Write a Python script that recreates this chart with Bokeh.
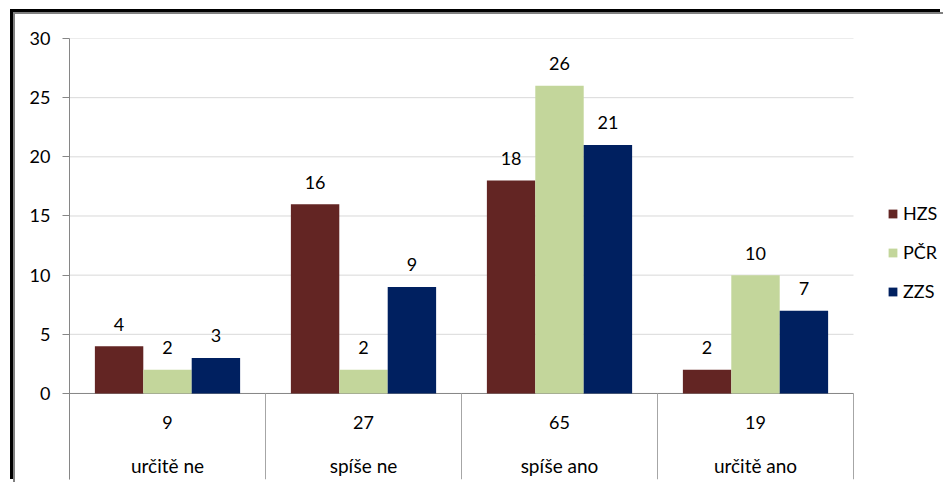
from bokeh.plotting import figure
from bokeh.models import Range1d, FixedTicker, Legend, LegendItem, ColumnDataSource
from bokeh.core.properties import value
from bokeh.transform import dodge
from bokeh.embed import file_html
from bokeh.resources import INLINE

categories = ["určitě ne", "spíše ne", "spíše ano", "určitě ano"]
totals = [9, 27, 65, 19]
series_names = ["HZS", "PČR", "ZZS"]
hzs = [4, 16, 18, 2]
pcr = [2, 2, 26, 10]
zzs = [3, 9, 21, 7]
y_ticks = [0, 5, 10, 15, 20, 25, 30]

colors = ["#632523", "#c3d69b", "#002060"]
FONT = "Lato"
FS = "18px"

n = len(categories)
xc = [i + 0.5 for i in range(n)]
src = ColumnDataSource(dict(xc=xc, cat=categories, tot=[str(t) for t in totals],
                            HZS=hzs, PCR=pcr, ZZS=zzs,
                            HZS_t=[str(v) for v in hzs], PCR_t=[str(v) for v in pcr],
                            ZZS_t=[str(v) for v in zzs]))

W, H = 930, 470
LEFT, TOP, BOTTOM = 54, 24, 5
PLOT_PX = 784  # pixel width of the 4 category columns
x_end = n * (W - LEFT) / PLOT_PX

p = figure(width=W, height=H, output_backend="svg", toolbar_location=None,
           x_range=Range1d(0, x_end), y_range=Range1d(-7.27, 30),
           x_axis_location=None, min_border_left=LEFT, min_border_top=TOP,
           min_border_right=0, min_border_bottom=BOTTOM)
p.outline_line_color = None
p.background_fill_color = "white"
p.border_fill_color = "white"
p.styles = {"border-top": "2px solid #808080", "border-left": "2px solid #808080",
            "box-shadow": "-3px -3px 0 0 black",
            "margin-left": "13px", "margin-top": "12px"}

p.xgrid.visible = False
p.ygrid.visible = False
# horizontal gridlines only across the category columns
p.segment(x0=[0] * len(y_ticks), x1=[n] * len(y_ticks), y0=y_ticks, y1=y_ticks,
          line_color="#d9d9d9", line_width=1)

ax = p.yaxis[0]
ax.ticker = FixedTicker(ticks=y_ticks)
ax.axis_line_color = "#868686"
ax.major_tick_line_color = "#868686"
ax.major_tick_out = 7
ax.major_tick_in = 0
ax.minor_tick_line_color = None
ax.major_label_standoff = 12
ax.major_label_text_font = FONT
ax.major_label_text_font_size = FS
ax.major_label_text_color = "black"

# zero line and table separators
p.segment(x0=0, x1=n, y0=0, y1=0, line_color="#868686", line_width=1)
p.segment(x0=list(range(n + 1)), x1=list(range(n + 1)),
          y0=-7.27, y1=0, line_color="#a6a6a6", line_width=1)

bw = 0.247
offsets = [-bw, 0, bw]
keys = ["HZS", "PCR", "ZZS"]
items = []
for k, name, off, col in zip(keys, series_names, offsets, colors):
    r = p.vbar(x=dodge("xc", off, range=p.x_range), top=k, width=bw, bottom=0,
               source=src, fill_color=col, line_color=None)
    p.text(x=dodge("xc", off, range=p.x_range), y=k, text=k + "_t", source=src,
           text_align="center", text_baseline="middle", y_offset=-22,
           text_font=value(FONT), text_font_size=FS, text_color="black")
    items.append(LegendItem(label=name, renderers=[r]))

p.text(x="xc", y=-2.45, text="tot", source=src, text_align="center",
       text_baseline="middle", text_font=value(FONT), text_font_size=FS,
       text_color="black")
p.text(x="xc", y=-6.08, text="cat", source=src, text_align="center",
       text_baseline="middle", text_font=value(FONT), text_font_size="19px",
       text_color="black")

legend = Legend(items=items, location=(818, 177))
legend.padding = 0
legend.margin = 0
legend.border_line_color = None
legend.background_fill_color = None
legend.glyph_width = 11
legend.glyph_height = 11
legend.label_height = 20
legend.spacing = 17
legend.label_standoff = 5
legend.label_text_font = FONT
legend.label_text_font_size = FS
legend.label_text_color = "black"
p.add_layout(legend)

open("out.html", "w").write(file_html(p, INLINE))
